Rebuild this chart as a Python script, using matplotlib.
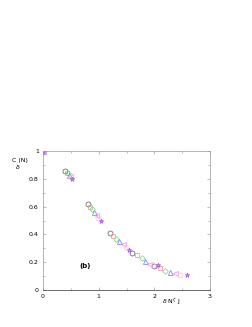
import matplotlib.pyplot as plt
import numpy as np

# x positions (delta N^zeta J) and C_delta(N) for each series
x_circ = [0, 0.40, 0.80, 1.20, 1.60, 2.00]
y_circ = [1, 0.86, 0.62, 0.41, 0.27, 0.17]
x_sq = [0, 0.43, 0.84, 1.26, 1.68, 2.10]
y_sq = [1, 0.84, 0.60, 0.39, 0.25, 0.16]
x_dia = [0, 0.45, 0.88, 1.32, 1.77, 2.20]
y_dia = [1, 0.84, 0.58, 0.37, 0.23, 0.14]
x_tri = [0, 0.47, 0.92, 1.37, 1.84, 2.29]
y_tri = [1, 0.83, 0.56, 0.35, 0.21, 0.13]
x_trd = [0, 0.48, 0.95, 1.44, 1.91, 2.37]
y_trd = [1, 0.82, 0.54, 0.33, 0.19, 0.12]
x_pc = [0, 0.50, 0.99, 1.49, 1.98, 2.46]
y_pc = [1, 0.81, 0.52, 0.31, 0.18, 0.11]
x_star = [0, 0.52, 1.04, 1.55, 2.07, 2.58]
y_star = [1, 0.80, 0.50, 0.29, 0.18, 0.11]

fig = plt.figure(figsize=(2.53, 3.27), dpi=100)
ax = fig.add_axes([0.17, 0.113, 0.66, 0.425])

ms = 3.6
ax.plot(x_circ, y_circ, 'o', mfc='none', mec='#555555', ms=ms, mew=0.5)
ax.plot(x_sq, y_sq, 's', mfc='none', mec='#f29090', ms=ms * 0.9, mew=0.5)
ax.plot(x_dia, y_dia, 'D', mfc='none', mec='#66dd66', ms=ms * 0.8, mew=0.5)
ax.plot(x_tri, y_tri, '^', mfc='none', mec='#7070ff', ms=ms, mew=0.5)
ax.plot(x_trd, y_trd, '<', mfc='none', mec='#ee88ee', ms=ms, mew=0.5)
ax.plot(x_pc, y_pc, 'o', mfc='none', mec='#f7c0dc', ms=ms, mew=0.5)
ax.plot(x_star, y_star, '*', mfc='#d9a0f0', mec='#aa55dd', ms=ms * 0.95, mew=0.5)

ax.set_xlim(0, 3)
ax.set_ylim(0, 1)
ax.set_xticks([0, 1, 2, 3])
ax.set_yticks([0, 0.2, 0.4, 0.6, 0.8, 1])
ax.set_yticklabels(['0', '0.2', '0.4', '0.6', '0.8', '1'])
ax.set_xticks(np.arange(0.5, 3, 1), minor=True)
ax.set_yticks(np.arange(0.1, 1, 0.2), minor=True)
ax.tick_params(which='both', direction='in', top=True, right=True,
               labelsize=4.5, length=2, width=0.4, color='#888888', pad=3)
ax.tick_params(which='minor', length=1.2)
for s in ax.spines.values():
    s.set_linewidth(0.5)
    s.set_color('#999999')
ax.spines['bottom'].set_color('#333333')

# y label: "C (N)" with the delta set well below
ax.text(-0.14, 0.93, 'C (N)', transform=ax.transAxes, fontsize=4.5,
        ha='center', va='center')
ax.text(-0.15, 0.885, r'$\delta$', transform=ax.transAxes, fontsize=4.5,
        ha='center', va='center')
ax.text(0.77, -0.05, r'$\delta$ N$^\zeta$ J', transform=ax.transAxes,
        fontsize=4.5, ha='center', va='top')
ax.text(0.75, 0.17, '(b)', fontsize=5, fontweight='bold', ha='center', va='center')

fig.savefig('out.png', dpi=100)
